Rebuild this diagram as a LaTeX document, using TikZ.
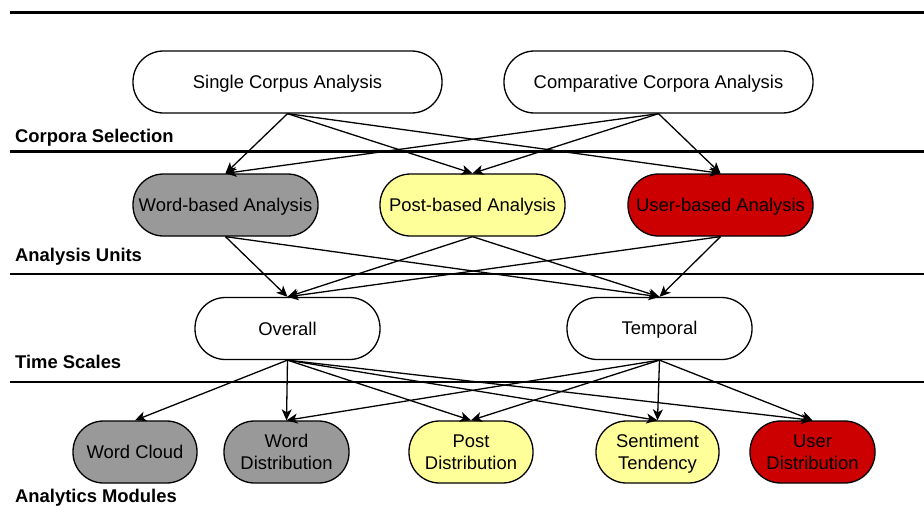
\documentclass[tikz,border=0pt]{standalone}
\usepackage{fontspec}
\setmainfont{Liberation Sans}
\usetikzlibrary{arrows.meta}
\definecolor{gbox}{HTML}{999999}
\definecolor{ybox}{HTML}{FFFF99}
\definecolor{rbox}{HTML}{CC0000}
\newcommand{\nodestrut}{\rule[-2.5pt]{0pt}{18.7pt}}
\tikzset{
  box/.style={draw, line width=1.3pt, rounded corners=30.5pt, minimum height=62pt, inner sep=0pt, align=center, font=\fontsize{18.4}{22}\selectfont},
  sep/.style={line width=2.6pt},
  lab/.style={anchor=base west, inner sep=0pt, font=\fontsize{18.4}{22}\selectfont\bfseries},
  edge/.style={line width=1.3pt, -{Stealth[length=11pt,width=10pt,inset=3pt]}}
}
\begin{document}
\begin{tikzpicture}[x=1pt,y=-1pt]
\useasboundingbox (0,0) rectangle (924,506);
\fill[white] (0,0) rectangle (924,506);
% separators
\coordinate (s1a) at (10,12.7); \coordinate (s1b) at (924,12.7);
\coordinate (s2a) at (10,151.7); \coordinate (s2b) at (924,151.7);
\coordinate (s3a) at (10,274); \coordinate (s3b) at (924,274);
\coordinate (s4a) at (10,382); \coordinate (s4b) at (924,382);
\draw[sep] (s1a) -- (s1b);
\draw[sep] (s2a) -- (s2b);
\draw[sep] (s3a) -- (s3b);
\draw[sep] (s4a) -- (s4b);
% labels
\node[lab] (l1) at (15,142) {Corpora Selection};
\node[lab] (l2) at (15,261.5) {Analysis Units};
\node[lab] (l3) at (15,368) {Time Scales};
\node[lab] (l4) at (15,502) {Analytics Modules};
% nodes
\node[box, fill=white, minimum width=309pt] (sca) at (287.5,82) {Single Corpus Analysis\nodestrut};
\node[box, fill=white, minimum width=309pt] (cca) at (658.5,82) {Comparative Corpora Analysis\nodestrut};
\node[box, fill=gbox, minimum width=185pt] (wba) at (225.5,205) {Word-based Analysis\nodestrut};
\node[box, fill=ybox, minimum width=185pt] (pba) at (472.5,205) {Post-based Analysis\nodestrut};
\node[box, fill=rbox, minimum width=185pt] (uba) at (720.5,205) {User-based Analysis\nodestrut};
\node[box, fill=white, minimum width=185pt] (ov) at (287.5,328.5) {Overall\nodestrut};
\node[box, fill=white, minimum width=185pt] (tp) at (659.5,328.5) {Temporal\nodestrut};
\node[box, fill=gbox, minimum width=124pt] (wc) at (135,452) {Word Cloud\nodestrut};
\node[box, fill=gbox, minimum width=125pt] (wd) at (286.5,452) {Word\nodestrut\\Distribution\nodestrut};
\node[box, fill=ybox, minimum width=124pt] (pd) at (471,452) {Post\nodestrut\\Distribution\nodestrut};
\node[box, fill=ybox, minimum width=123pt] (st) at (657.5,452) {Sentiment\nodestrut\\Tendency\nodestrut};
\node[box, fill=rbox, minimum width=125pt] (ud) at (812.5,452) {User\nodestrut\\Distribution\nodestrut};
% edges
\foreach \s in {sca,cca}{
  \foreach \t in {wba,pba,uba}{
    \draw[edge] (\s.south) -- (\t.north);
  }
}
\foreach \s in {wba,pba,uba}{
  \foreach \t in {ov,tp}{
    \draw[edge] (\s.south) -- (\t.north);
  }
}
\foreach \t in {wc,wd,pd,st,ud}{
  \draw[edge] (ov.south) -- (\t.north);
}
\foreach \t in {wd,pd,st,ud}{
  \draw[edge] (tp.south) -- (\t.north);
}
\end{tikzpicture}
\end{document}
